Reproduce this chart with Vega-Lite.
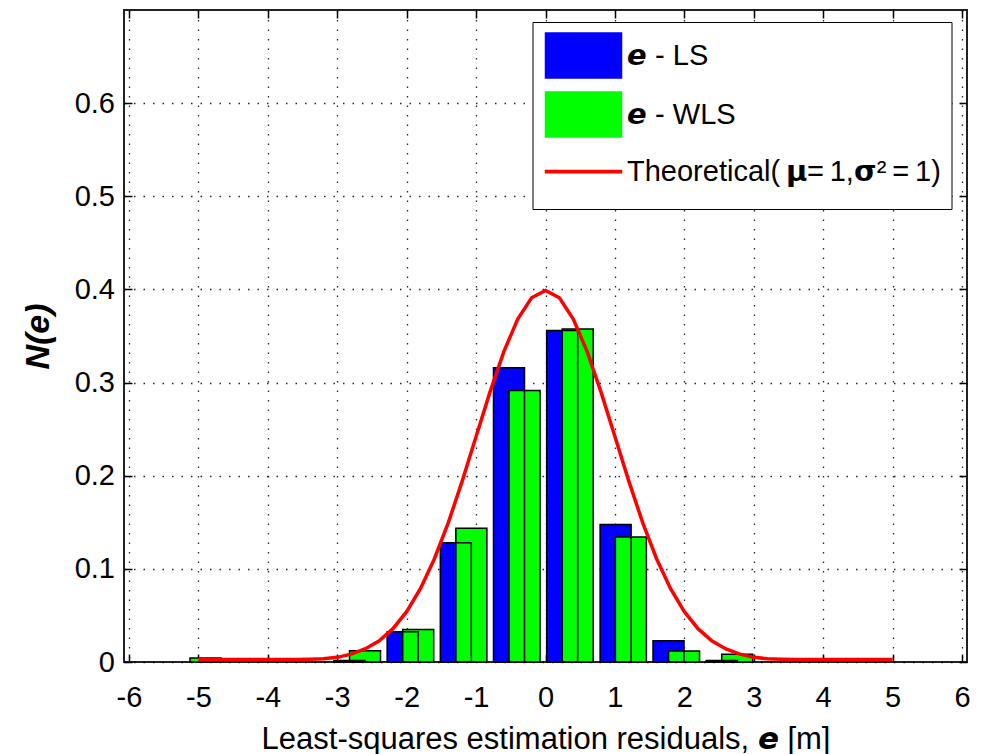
{
  "$schema": "https://vega.github.io/schema/vega-lite/v6.json",
  "autosize": {"type": "none"},
  "padding": {"left": 124, "top": 10, "right": 20, "bottom": 92},
  "width": 843,
  "height": 652,
  "background": "white",
  "config": {
    "font": "Liberation Sans",
    "view": {"stroke": "#222", "strokeWidth": 2}
  },
  "datasets": {
    "bars": [
      {"e": -2.825, "series": "LS", "n": 0.0015},
      {"e": -2.058, "series": "LS", "n": 0.0325},
      {"e": -1.292, "series": "LS", "n": 0.128},
      {"e": -0.526, "series": "LS", "n": 0.316},
      {"e": 0.24, "series": "LS", "n": 0.356},
      {"e": 1.01, "series": "LS", "n": 0.1476},
      {"e": 1.772, "series": "LS", "n": 0.0228},
      {"e": 2.538, "series": "LS", "n": 0.0015},
      {"e": -4.898, "series": "WLS", "n": 0.0043},
      {"e": -2.6, "series": "WLS", "n": 0.012},
      {"e": -1.834, "series": "WLS", "n": 0.035},
      {"e": -1.068, "series": "WLS", "n": 0.1436},
      {"e": -0.302, "series": "WLS", "n": 0.2915},
      {"e": 0.464, "series": "WLS", "n": 0.3575},
      {"e": 1.23, "series": "WLS", "n": 0.1343},
      {"e": 1.996, "series": "WLS", "n": 0.0118},
      {"e": 2.762, "series": "WLS", "n": 0.0083}
    ],
    "curve": [
      {"e": -5, "n": 0.0027}, {"e": -4, "n": 0.0027}, {"e": -3.6, "n": 0.0028},
      {"e": -3.4, "n": 0.003}, {"e": -3.2, "n": 0.0035}, {"e": -3.0, "n": 0.005},
      {"e": -2.8, "n": 0.0085}, {"e": -2.6, "n": 0.014}, {"e": -2.4, "n": 0.0224},
      {"e": -2.2, "n": 0.0355}, {"e": -2.0, "n": 0.054}, {"e": -1.8, "n": 0.079},
      {"e": -1.6, "n": 0.1109}, {"e": -1.4, "n": 0.1497}, {"e": -1.2, "n": 0.1942},
      {"e": -1.0, "n": 0.242}, {"e": -0.8, "n": 0.2897}, {"e": -0.6, "n": 0.3332},
      {"e": -0.4, "n": 0.3683}, {"e": -0.2, "n": 0.391}, {"e": 0, "n": 0.3989},
      {"e": 0.2, "n": 0.391}, {"e": 0.4, "n": 0.3683}, {"e": 0.6, "n": 0.3332},
      {"e": 0.8, "n": 0.2897}, {"e": 1.0, "n": 0.242}, {"e": 1.2, "n": 0.1942},
      {"e": 1.4, "n": 0.1497}, {"e": 1.6, "n": 0.1109}, {"e": 1.8, "n": 0.079},
      {"e": 2.0, "n": 0.054}, {"e": 2.2, "n": 0.0355}, {"e": 2.4, "n": 0.0224},
      {"e": 2.6, "n": 0.014}, {"e": 2.8, "n": 0.0085}, {"e": 3.0, "n": 0.005},
      {"e": 3.2, "n": 0.0035}, {"e": 3.4, "n": 0.003}, {"e": 3.6, "n": 0.0028},
      {"e": 4, "n": 0.0027}, {"e": 5, "n": 0.0027}
    ]
  },
  "resolve": {"axis": {"x": "independent", "y": "independent"}},
  "layer": [
    {
      "data": {"name": "bars"},
      "transform": [{"filter": "datum.series === 'LS'"}],
      "mark": {"type": "bar", "width": 31, "opacity": 1},
      "encoding": {
        "x": {
          "field": "e", "type": "quantitative",
          "scale": {"domain": [-6, 6], "nice": false, "zero": false},
          "axis": {
            "orient": "bottom",
            "values": [-6, -5, -4, -3, -2, -1, 0, 1, 2, 3, 4, 5, 6],
            "labelExpr": "'' + datum.value",
            "title": "Least-squares estimation residuals, \ud835\ude5a [m]",
            "titleFont": "Liberation Sans", "titleFontSize": 31, "titleFontWeight": "normal",
            "titleColor": "#000", "titlePadding": 12,
            "labelFont": "Liberation Sans", "labelFontSize": 29, "labelColor": "#000",
            "labelPadding": 29, "labelFlush": false, "labelOverlap": false,
            "tickSize": -8, "tickColor": "#000", "tickWidth": 1.5,
            "domain": false,
            "grid": true, "gridColor": "#000", "gridDash": [1.5, 8], "gridWidth": 1.3, "gridOpacity": 0.85
          }
        },
        "y": {
          "field": "n", "type": "quantitative", "stack": null,
          "scale": {"domain": [0, 0.7], "nice": false},
          "axis": {
            "orient": "left",
            "values": [0, 0.1, 0.2, 0.3, 0.4, 0.5, 0.6],
            "labelExpr": "datum.value == 0 ? '0' : format(datum.value, '.1f')",
            "title": "N(e)",
            "titleFont": "Liberation Sans", "titleFontSize": 34, "titleFontWeight": "bold", "titleFontStyle": "italic",
            "titleColor": "#000", "titlePadding": 19,
            "labelFont": "Liberation Sans", "labelFontSize": 29, "labelColor": "#000",
            "labelPadding": 17.5, "labelFlush": false, "labelOverlap": false,
            "tickSize": -8, "tickColor": "#000", "tickWidth": 1.5,
            "domain": false,
            "grid": true, "gridColor": "#000", "gridDash": [1.5, 8], "gridWidth": 1.3, "gridOpacity": 0.85
          }
        },
        "color": {
          "field": "series", "type": "nominal",
          "scale": {"domain": ["LS", "WLS", "Theoretical"], "range": ["#0000ff", "#00ff00", "#ff0000"]},
          "legend": {
            "orient": "none", "legendX": 408.5, "legendY": 12,
            "title": " ", "titleOrient": "bottom", "titleFontSize": 8, "titlePadding": 4,
            "padding": 10,
            "fillColor": "white", "strokeColor": "#000",
            "symbolSize": 2025,
            "symbolOffset": 17.5,
            "symbolOpacity": 1,
            "symbolType": {"expr": "datum.value === 'Theoretical' ? 'M-1.689,-0.05L1.689,-0.05L1.689,0.05L-1.689,0.05Z' : 'M-1.689,-1L1.689,-1L1.689,1L-1.689,1Z'"},
            "symbolStrokeColor": {"expr": "datum.value === 'Theoretical' ? '#ff0000' : '#000000'"},
            "symbolStrokeWidth": 1.5,
            "labelFont": "Liberation Sans", "labelFontSize": 29, "labelColor": "#000",
            "labelOffset": 20, "rowPadding": 8, "labelLimit": 500,
            "labelExpr": "datum.value === 'LS' ? '\ud835\ude5a - LS' : datum.value === 'WLS' ? '\ud835\ude5a - WLS' : 'Theoretical(\u2009\ud835\udf7b=\u20091,\ud835\udf82\u00b2\u2009=\u20091)'"
          }
        }
      }
    },
    {
      "data": {"name": "bars"},
      "transform": [{"filter": "datum.series === 'WLS'"}],
      "mark": {"type": "bar", "width": 31, "stroke": "#000", "strokeWidth": 1.5, "opacity": 1},
      "encoding": {
        "x": {"field": "e", "type": "quantitative", "axis": null},
        "y": {"field": "n", "type": "quantitative", "stack": null, "axis": null},
        "color": {"field": "series", "type": "nominal", "legend": null}
      }
    },
    {
      "data": {"name": "bars"},
      "transform": [{"filter": "datum.series === 'LS'"}],
      "mark": {"type": "bar", "width": 31, "fill": "transparent", "stroke": "#000", "strokeWidth": 1.5},
      "encoding": {
        "x": {"field": "e", "type": "quantitative", "axis": null},
        "y": {"field": "n", "type": "quantitative", "stack": null, "axis": null}
      }
    },
    {
      "data": {"name": "curve"},
      "mark": {"type": "line", "strokeWidth": 3.5, "clip": true},
      "encoding": {
        "x": {
          "field": "e", "type": "quantitative",
          "axis": {"orient": "top", "values": [-6, -5, -4, -3, -2, -1, 0, 1, 2, 3, 4, 5, 6], "labels": false, "title": null, "domain": false, "grid": false, "tickSize": -8, "tickColor": "#000", "tickWidth": 1.5}
        },
        "y": {
          "field": "n", "type": "quantitative",
          "axis": {"orient": "right", "values": [0, 0.1, 0.2, 0.3, 0.4, 0.5, 0.6], "labels": false, "title": null, "domain": false, "grid": false, "tickSize": -8, "tickColor": "#000", "tickWidth": 1.5}
        },
        "color": {"datum": "Theoretical", "type": "nominal", "legend": null}
      }
    }
  ]
}
